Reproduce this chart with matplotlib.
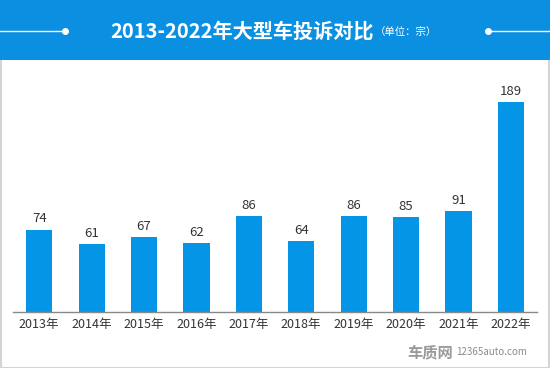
import matplotlib
matplotlib.use("Agg")
import matplotlib.pyplot as plt
from matplotlib.patches import Rectangle
from matplotlib.lines import Line2D

plt.rcParams['font.family'] = ['Noto Sans CJK SC', 'DejaVu Sans']

years = ["2013年", "2014年", "2015年", "2016年", "2017年", "2018年", "2019年", "2020年", "2021年", "2022年"]
complaints = [74, 61, 67, 62, 86, 64, 86, 85, 91, 189]
title = "2013-2022年大型车投诉对比"
unit = "（单位：宗）"
watermark_cn = "车质网"
watermark_en = "12365auto.com"

W, H = 550, 368
fig = plt.figure(figsize=(W / 100, H / 100), dpi=100)
fig.patch.set_facecolor("white")

# outer border
fig.add_artist(Rectangle((0.5 / W, 0.5 / H), (W - 2) / W, (H - 2) / H, transform=fig.transFigure,
                         fill=False, edgecolor="#d4d4d4", linewidth=1.5))
# header band
fig.add_artist(Rectangle((0, (H - 60) / H), 1, 60 / H, transform=fig.transFigure,
                         facecolor="#0b90e1", edgecolor="none", zorder=2))
# header lines and dots
yl = (H - 31) / H
fig.add_artist(Line2D([0, 65 / W], [yl, yl], transform=fig.transFigure, color="white", lw=1, zorder=3))
fig.add_artist(Line2D([488 / W, 1], [yl, yl], transform=fig.transFigure, color="white", lw=1, zorder=3))
fig.add_artist(Line2D([65 / W], [yl], transform=fig.transFigure, marker="o", ms=4, color="white", zorder=3))
fig.add_artist(Line2D([488 / W], [yl], transform=fig.transFigure, marker="o", ms=4, color="white", zorder=3))
fig.text(242 / W, yl, title, color="white", fontsize=14.5, fontweight="bold",
         ha="center", va="center", zorder=4)
fig.text(375 / W, (H - 32) / H, unit, color="white", fontsize=7.5, ha="left", va="center", zorder=4)

# axes
ax_left, ax_right, ax_bottom, ax_top = 13, 537, 312, 80
ax = fig.add_axes([ax_left / W, (H - ax_bottom) / H, (ax_right - ax_left) / W, (ax_bottom - ax_top) / H])
x = list(range(len(years)))
bars = ax.bar(x, complaints, width=0.5, color="#0595e6", zorder=2)
ax.set_xlim(-0.5, len(years) - 0.5)
ax.set_ylim(0, (ax_bottom - ax_top) / (210.3 / 189))
for xi, v in zip(x, complaints):
    ax.annotate(str(v), (xi, v), xytext=(0, 3), textcoords="offset points",
                ha="center", va="bottom", fontsize=9.5, color="#333333")
ax.set_xticks(x)
ax.set_xticklabels(years, fontsize=9, color="#333333")
ax.tick_params(axis="x", length=0, pad=4)
ax.set_yticks([])
for s in ["top", "right", "left"]:
    ax.spines[s].set_visible(False)
ax.spines["bottom"].set_color("#888888")
ax.spines["bottom"].set_linewidth(1)
ax.set_facecolor("none")

# watermark
fig.text(430 / W, (H - 352) / H, watermark_cn, color="#9a9a9a", fontsize=11, fontweight="bold",
         ha="center", va="center")
fig.text(492 / W, (H - 352) / H, watermark_en, color="#8a8a8a", fontsize=7,
         ha="center", va="center")

fig.savefig("out.png", dpi=100)
